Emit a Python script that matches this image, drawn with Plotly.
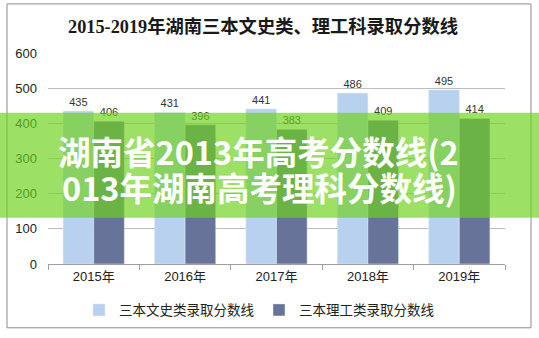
import plotly.graph_objects as go

years = ["2015年", "2016年", "2017年", "2018年", "2019年"]
wenshi = [435, 431, 441, 486, 495]
ligong = [406, 396, 383, 409, 414]
series_names = ["三本文史类录取分数线", "三本理工类录取分数线"]
title_text = "2015-2019年湖南三本文史类、理工科录取分数线"
overlay_line1 = "湖南省2013年高考分数线(2"
overlay_line2 = "013年湖南高考理科分数线)"

W, H = 539, 338
L, R, T, B = 48, 34, 53, 70
pw, ph = W - L - R, H - T - B

def px_x(x):
    return (x - L) / pw

def px_y(y):
    return (H - B - y) / ph

label_font = dict(family="Liberation Sans, Arial, sans-serif", size=11, color="#333333")

fig = go.Figure()
fig.add_trace(go.Bar(x=years, y=wenshi, name=series_names[0], marker_color="#B8D1EE",
                     text=wenshi, textposition="outside", textfont=label_font, cliponaxis=False))
fig.add_trace(go.Bar(x=years, y=ligong, name=series_names[1], marker_color="#68739A",
                     text=ligong, textposition="outside", textfont=label_font, cliponaxis=False))

fig.update_layout(
    width=W, height=H,
    margin=dict(l=L, r=R, t=T, b=B),
    paper_bgcolor="white", plot_bgcolor="white",
    barmode="group", bargap=0.33, bargroupgap=0,
    font=dict(family="Liberation Sans, Noto Sans CJK SC, sans-serif", size=12, color="#222222"),
    title=dict(text=title_text, x=px_x(263), xref="paper", xanchor="center",
               y=1 - 27 / H, yanchor="middle",
               font=dict(family="Liberation Serif, Noto Sans CJK SC, serif", size=18.3, color="#1a1a1a", weight="bold")),
    showlegend=True,
    legend=dict(orientation="h", x=px_x(259), xanchor="center", y=px_y(315), yanchor="middle",
                font=dict(family="Noto Sans CJK SC, sans-serif", size=13.5, color="#222222"),
                itemwidth=30, tracegroupgap=0),
    xaxis=dict(showline=True, linecolor="#A0A0A0", linewidth=1, ticks="outside", tickson="boundaries",
               ticklen=5, tickcolor="#A0A0A0", showgrid=False,
               tickfont=dict(family="Liberation Sans, Noto Sans CJK SC, sans-serif", size=13, color="#222222")),
    yaxis=dict(range=[0, 600], dtick=100, showgrid=True, gridcolor="#BDBDBD", gridwidth=1,
               zeroline=False, showline=False, ticks="", ticklabelstandoff=10,
               tickfont=dict(family="Liberation Sans, sans-serif", size=13, color="#222222")),
)

# outer chart border
fig.add_shape(type="rect", xref="paper", yref="paper",
              x0=px_x(7), x1=px_x(531), y0=px_y(333), y1=px_y(3),
              line=dict(color="#8C8C8C", width=1), fillcolor="rgba(0,0,0,0)", layer="below")

# green overlay band
fig.add_shape(type="rect", xref="paper", yref="paper",
              x0=px_x(0), x1=px_x(W), y0=px_y(221), y1=px_y(114),
              line=dict(width=0), fillcolor="rgba(110,210,30,0.68)", layer="above")

ov_font = dict(family="Noto Sans CJK SC, sans-serif", size=32.5, color="white", weight="bold")
fig.add_annotation(text=overlay_line1, xref="paper", yref="paper", x=px_x(56), y=px_y(152),
                   xanchor="left", yanchor="middle", showarrow=False, font=ov_font)
fig.add_annotation(text=overlay_line2, xref="paper", yref="paper", x=px_x(60), y=px_y(189),
                   xanchor="left", yanchor="middle", showarrow=False, font=ov_font)

fig.write_html("out.html")
